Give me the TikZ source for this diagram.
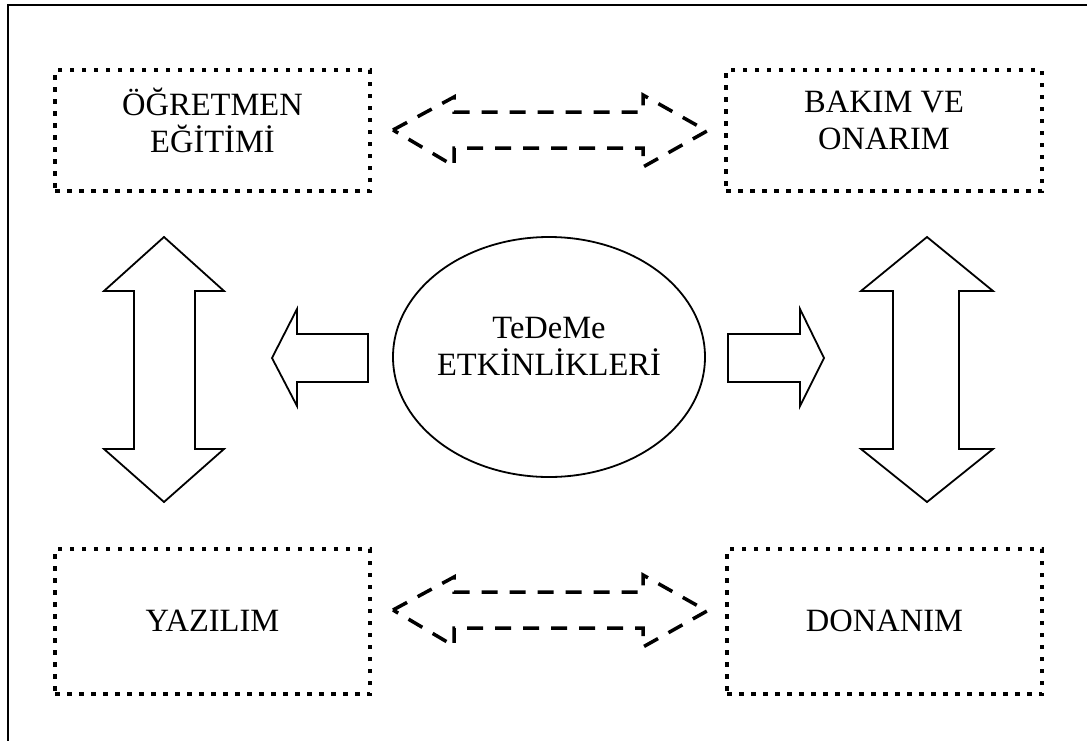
\documentclass[tikz,border=0pt]{standalone}
\usepackage{fontspec}
\setmainfont{Liberation Serif}
\usetikzlibrary{shapes.geometric}
\begin{document}
\begin{tikzpicture}[x=1pt,y=-1pt,
  dotbox/.style={draw, line width=4.5pt, dash pattern=on 4.5pt off 7.5pt, minimum width=#1, inner sep=0pt},
  bigtext/.style={font=\fontsize{32.5}{37}\selectfont, align=center, inner sep=0pt},
  blockarrow/.style={draw, line width=1.8pt, line join=miter},
  dasharrow/.style={draw, line width=3.5pt, dash pattern=on 16pt off 12pt}]
\useasboundingbox (0,0) rectangle (1087,740);
\begin{scope}
\clip (0,0) rectangle (1087,740);
\draw[line width=2pt] (8,5) rectangle (1120,780);
\end{scope}
% boxes
\node[dotbox=315pt, minimum height=121pt] (ogr) at (212.5,130.5) {};
\node[dotbox=316pt, minimum height=121pt] (bak) at (884,130.5) {};
\node[dotbox=315pt, minimum height=145pt] (yaz) at (212.5,621.5) {};
\node[dotbox=315pt, minimum height=145pt] (don) at (884.5,621.5) {};
\node[bigtext] (ogrt) at (212.5,120) {ÖĞRETMEN\\EĞİTİMİ};
\node[bigtext] (bakt) at (884,120) {BAKIM VE\\ONARIM};
\node[bigtext] (yazt) at (212.5,621) {YAZILIM};
\node[bigtext] (dont) at (884.5,621) {DONANIM};
% ellipse
\node[ellipse, draw, line width=1.8pt, minimum width=312pt, minimum height=240pt, inner sep=0pt] (ted) at (549,357) {};
\node[bigtext] (tedt) at (549,346) {TeDeMe\\ETKİNLİKLERİ};
% dashed double arrows
\draw[dasharrow] (393,130) -- (454,97) -- (454,112) -- (643,112) -- (643,95) -- (707,131) -- (643,167) -- (643,148) -- (454,148) -- (454,166) -- cycle;
\draw[dasharrow] (393,610) -- (454,577) -- (454,592) -- (643,592) -- (643,575) -- (707,611) -- (643,647) -- (643,628) -- (454,628) -- (454,646) -- cycle;
% vertical double arrows
\draw[blockarrow] (164,237) -- (224,291) -- (195,291) -- (195,449) -- (224,449) -- (164,502) -- (104,449) -- (134,449) -- (134,291) -- (104,291) -- cycle;
\draw[blockarrow] (927,237) -- (993,291) -- (959,291) -- (959,449) -- (993,449) -- (927,502) -- (861,449) -- (893,449) -- (893,291) -- (861,291) -- cycle;
% small block arrows
\draw[blockarrow] (272,358) -- (297,309) -- (297,334) -- (368,334) -- (368,382) -- (297,382) -- (297,406) -- cycle;
\draw[blockarrow] (824,358) -- (800,309) -- (800,334) -- (728,334) -- (728,382) -- (800,382) -- (800,406) -- cycle;
\end{tikzpicture}
\end{document}
